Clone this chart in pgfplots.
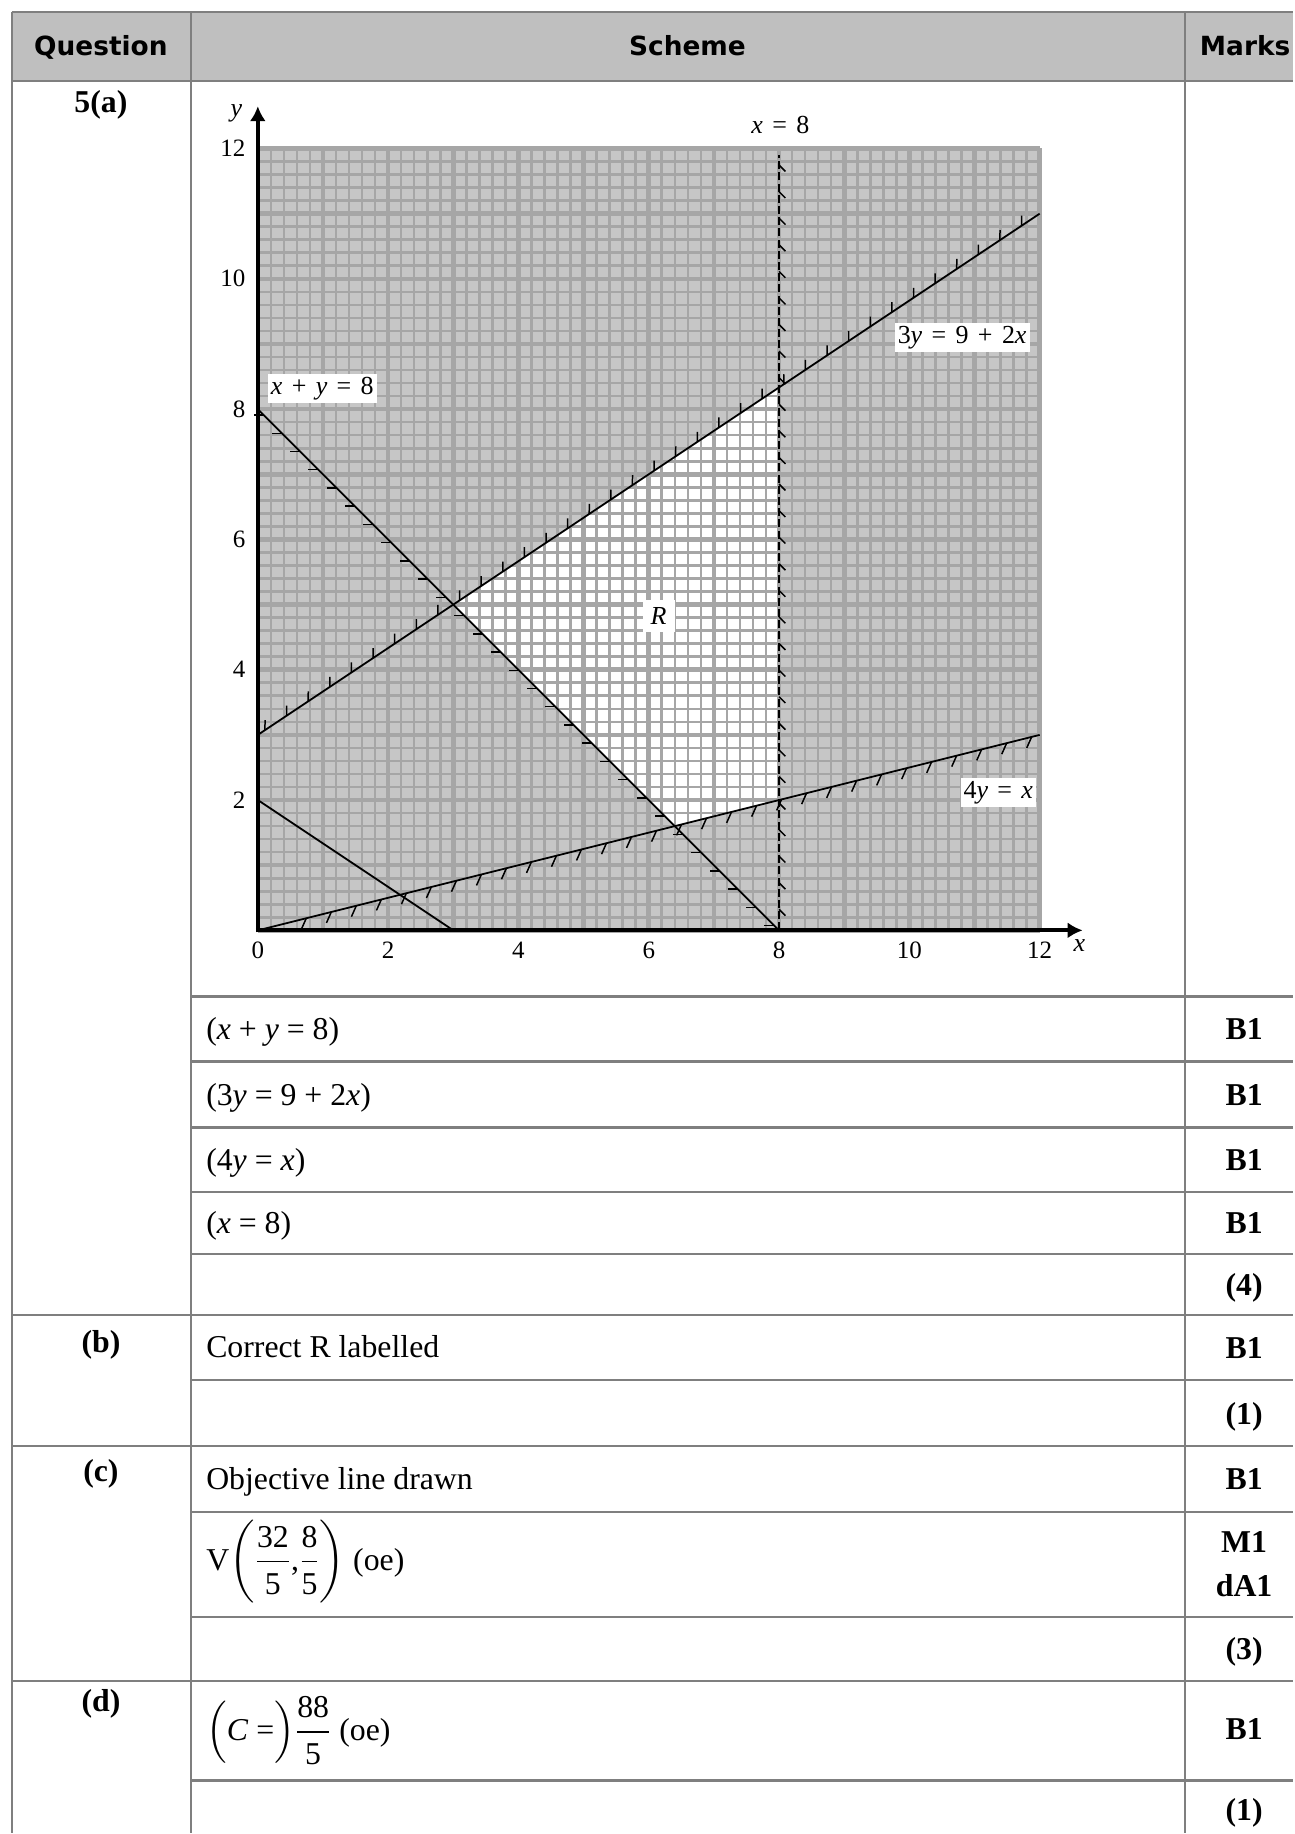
\documentclass[border=0pt]{standalone}
\usepackage{amsmath}
\usepackage{fontspec}
\setmainfont{Liberation Serif}
\newfontfamily\headfont{DejaVu Sans}
\usepackage{pgfplots}
\pgfplotsset{compat=1.18}
\usetikzlibrary{arrows.meta,decorations.markings}

\definecolor{rulegray}{HTML}{7F7F7F}
\definecolor{headgray}{HTML}{BFBFBF}
\definecolor{paper}{HTML}{C6C6C6}
\definecolor{paperline}{HTML}{A6A6A6}

\newcommand{\body}{\fontsize{15.9}{19}\selectfont}
\newcommand{\head}{\headfont\bfseries\fontsize{13.2}{16}\selectfont}
\newcommand{\tfont}{\fontsize{12.5}{14}\selectfont}
\newcommand{\gfont}{\fontsize{13}{15}\selectfont}
\newcommand{\vx}{\textit{x}}
\newcommand{\vy}{\textit{y}}
\newcommand{\g}{\hspace{0.25em}}
\newcommand{\s}{\hspace{0.36em}}

% short hatch strokes on one side of a boundary line
% #1 first position, #2 spacing, #3 angle to the line, #4 length
\tikzset{
  hatch/.style n args={4}{
    postaction={decorate},
    decoration={markings,
      mark=between positions #1 and 1 step #2 with
        {\draw[solid, black, line width=0.75pt] (0,0) -- (#3:#4);}}
  },
  cell/.style={anchor=base west, font=\body, inner sep=0pt},
  mk/.style={anchor=base, font=\body\bfseries, inner sep=0pt},
  qlab/.style={anchor=base, font=\body\bfseries, inner sep=0pt},
  hd/.style={anchor=base, font=\head, inner sep=0pt},
  lbl/.style={font=\gfont, fill=white, inner xsep=1.5pt, inner ysep=1.45pt,
              text height=8.8pt, text depth=2.8pt},
}

% common geometry of the graph (origin placed in the table cell)
\pgfplotsset{graphbox/.style={
  at={(129pt,-465.5pt)}, anchor=south west,
  x=32.6pt, y=32.6pt,
  xmin=0, xmax=12, ymin=0, ymax=12, clip=false}}

\begin{document}
\begin{tikzpicture}[x=0.5pt, y=-0.5pt]
\fill[white] (0,0) rectangle (1294,1834);

% header band
\fill[headgray] (12,12) rectangle (1294,81);

% table rules
\begin{scope}[draw=rulegray, line width=1.3pt]
  \draw (12,12) -- (1294,12);
  \draw (12,12) -- (12,1834);
  \draw (191,12) -- (191,1834);
  \draw (1186,12) -- (1186,1834);
  \foreach \r in {81,1316,1447,1682} \draw (12,\r) -- (1294,\r);
  \foreach \r in {997,1062,1128,1193,1255,1381,1513,1618,1782} \draw (191,\r) -- (1294,\r);
\end{scope}

% header text
\node[hd] at (101,55.5) {Question};
\node[hd] at (688,55.5) {Scheme};
\node[hd] at (1246,55.5) {Marks};

% question parts
\node[qlab] at (101,112.5) {5(a)};
\node[qlab] at (101,1353.5) {(b)};
\node[qlab] at (101,1482.5) {(c)};
\node[qlab] at (101,1712.5) {(d)};

% scheme entries
\node[cell] at (206,1040.5) {(\vx\g+\g\vy\g=\g8)};
\node[cell] at (206,1106) {(3\vy\g=\g9\g+\g2\vx)};
\node[cell] at (206,1171.5) {(4\vy\g=\g\vx)};
\node[cell] at (206,1234.5) {(\vx\g=\g8)};
\node[cell] at (206,1358.5) {Correct R labelled};
\node[cell] at (206,1490.5) {Objective line drawn};
\node[cell] at (206,1571.5) {V$\displaystyle\biggl(\frac{\text{32}}{\text{5}}\text{,}\frac{\text{8}}{\text{5}}\biggr)$ (oe)};
\node[cell] at (206,1742) {$\displaystyle\Bigl(\text{\textit{C}\g=}\Bigr)\frac{\text{88}}{\text{5}}$ (oe)};

% marks
\node[mk] at (1245,1040.5) {B1};
\node[mk] at (1245,1106) {B1};
\node[mk] at (1245,1171.5) {B1};
\node[mk] at (1245,1234.5) {B1};
\node[mk] at (1245,1296.5) {(4)};
\node[mk] at (1245,1359) {B1};
\node[mk] at (1245,1425) {(1)};
\node[mk] at (1245,1490.5) {B1};
\node[mk] at (1245,1553.5) {M1};
\node[mk] at (1245,1597.5) {dA1};
\node[mk] at (1245,1661) {(3)};
\node[mk] at (1245,1740.5) {B1};
\node[mk] at (1245,1822) {(1)};

% shaded paper, with the feasible region R left clear
\begin{axis}[graphbox, hide axis]
\addplot[draw=none, fill=paper]
  coordinates {(0,0) (12,0) (12,12) (0,12)};
\addplot[draw=none, fill=white]
  coordinates {(3,5) (6.4,1.6) (8,2) (8,8.3333)};
\end{axis}

% graph paper grid, boundary lines and labels
\begin{axis}[
  graphbox,
  axis line style={draw=none},
  major tick length=0pt, minor tick length=0pt,
  xtick={0,...,12}, ytick={0,...,12},
  xticklabels={0,,2,,4,,6,,8,,10,,12},
  yticklabels={,,2,,4,,6,,8,,10,,12},
  minor tick num=4,
  grid=both,
  major grid style={draw=paperline, line width=2.3pt},
  minor grid style={draw=paperline, line width=1.3pt},
  tick label style={font=\tfont},
  /pgf/number format/assume math mode=true,
  xticklabel style={anchor=north, inner sep=0pt, yshift=-5.6pt},
  yticklabel style={anchor=east, inner sep=0pt, xshift=-6pt},
]
% boundary lines with hatching on the excluded side
\addplot[black, line width=0.9pt, hatch={4.2pt}{12.9pt}{-135}{5pt}]
  coordinates {(0,8) (8,0)};
\addplot[black, line width=0.9pt, hatch={4.3pt}{13pt}{56}{5pt}]
  coordinates {(0,3) (12,11)};
\addplot[black, line width=0.9pt, hatch={25pt}{12.9pt}{-128}{6pt}]
  coordinates {(0,0) (12,3)};
\addplot[black, line width=0.9pt, dash pattern=on 4pt off 1.6pt,
  hatch={10.5pt}{13.3pt}{-135}{4.5pt}]
  coordinates {(8,0) (8,11.9)};
% objective line
\addplot[black, line width=0.9pt] coordinates {(0,2) (3,0)};

% axes
\draw[black, line width=2pt, -{Latex[length=7.5pt, width=8pt]}]
  (axis cs:-0.03,0) -- (axis cs:12.66,0);
\draw[black, line width=2pt, -{Latex[length=7.5pt, width=8pt]}]
  (axis cs:0,-0.03) -- (axis cs:0,12.65);
\node[font=\gfont] at (axis cs:12.61,-0.24) {\vx};
\node[font=\gfont] at (axis cs:-0.33,12.54) {\vy};

% line labels
\node[font=\gfont] at (axis cs:8.02,12.36) {\vx\s=\s8};
\node[lbl] at (axis cs:0.99,8.32) {\vx\s+\s\vy\s=\s8};
\node[lbl] at (axis cs:10.81,9.10) {3\vy\s=\s9\s+\s2\vx};
\node[lbl] at (axis cs:11.365,2.11) {4\vy\s=\s\vx};
\node[font=\gfont, fill=white, minimum size=16pt, inner sep=0pt] at (axis cs:6.15,4.83) {\textit{R}};
\end{axis}
\end{tikzpicture}
\end{document}
